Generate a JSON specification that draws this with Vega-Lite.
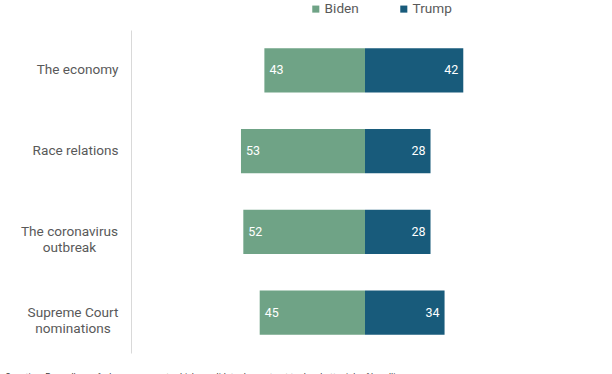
{
  "$schema": "https://vega.github.io/schema/vega-lite/v6.json",
  "autosize": {"type": "none"},
  "padding": {"left": 131, "top": 30, "right": 13, "bottom": 21},
  "width": 468,
  "height": 323,
  "background": "white",
  "config": {
    "view": {"stroke": null},
    "font": "Roboto"
  },
  "title": {
    "text": "Question: Regardless of who you support, which candidate do you trust to do a better job of handling...",
    "orient": "bottom",
    "anchor": "start",
    "frame": "group",
    "dx": -126,
    "offset": 20,
    "fontSize": 9,
    "fontWeight": "normal",
    "color": "#404040"
  },
  "data": {
    "values": [
      {"issue": "The economy", "candidate": "Biden", "pct": 43},
      {"issue": "The economy", "candidate": "Trump", "pct": 42},
      {"issue": "Race relations", "candidate": "Biden", "pct": 53},
      {"issue": "Race relations", "candidate": "Trump", "pct": 28},
      {"issue": "The coronavirus outbreak", "candidate": "Biden", "pct": 52},
      {"issue": "The coronavirus outbreak", "candidate": "Trump", "pct": 28},
      {"issue": "Supreme Court nominations", "candidate": "Biden", "pct": 45},
      {"issue": "Supreme Court nominations", "candidate": "Trump", "pct": 34}
    ]
  },
  "encoding": {
    "y": {
      "field": "issue",
      "type": "nominal",
      "sort": null,
      "scale": {"paddingInner": 0.45, "paddingOuter": 0.225},
      "axis": {
        "title": null,
        "ticks": false,
        "domainColor": "#d9d9d9",
        "domainWidth": 1,
        "labelAlign": {"condition": {"test": "datum.value == 'The coronavirus outbreak' || datum.value == 'Supreme Court nominations'", "value": "center"}, "value": "right"},
        "labelPadding": {"condition": [
          {"test": "datum.value == 'The coronavirus outbreak'", "value": 62},
          {"test": "datum.value == 'Supreme Court nominations'", "value": 58.5}
        ], "value": 13},
        "labelFontSize": 13.6,
        "labelColor": "#595959",
        "labelLineHeight": 16,
        "labelLimit": 200,
        "labelExpr": "datum.label == 'The coronavirus outbreak' ? ['The coronavirus', 'outbreak'] : datum.label == 'Supreme Court nominations' ? ['Supreme Court', 'nominations'] : datum.label"
      }
    }
  },
  "resolve": {"scale": {"x": "independent"}, "axis": {"x": "independent"}},
  "layer": [
    {
      "transform": [{"filter": "datum.candidate == 'Biden'"}],
      "encoding": {
        "x": {
          "field": "pct",
          "type": "quantitative",
          "scale": {"domain": [100, 0], "range": [0, 234]},
          "axis": null
        }
      },
      "layer": [
        {
          "mark": {"type": "bar"},
          "encoding": {
            "color": {
              "field": "candidate",
              "type": "nominal",
              "scale": {"domain": ["Biden", "Trump"], "range": ["#6fa386", "#185b7b"]},
              "legend": {
                "orient": "none",
                "legendX": 178,
                "legendY": -28,
                "direction": "horizontal",
                "title": null,
                "symbolType": "square",
                "symbolSize": 50,
                "symbolStrokeWidth": 0,
                "labelFontSize": 13.6,
                "labelColor": "#595959",
                "labelOffset": 2,
                "columnPadding": 38
              }
            }
          }
        },
        {
          "mark": {"type": "text", "align": "left", "dx": 5, "fontSize": 12.5, "color": "white"},
          "encoding": {"text": {"field": "pct", "type": "quantitative"}}
        }
      ]
    },
    {
      "transform": [{"filter": "datum.candidate == 'Trump'"}],
      "encoding": {
        "x": {
          "field": "pct",
          "type": "quantitative",
          "scale": {"domain": [0, 100], "range": [234, 468]},
          "axis": null
        }
      },
      "layer": [
        {
          "mark": {"type": "bar"},
          "encoding": {
            "color": {"field": "candidate", "type": "nominal"}
          }
        },
        {
          "mark": {"type": "text", "align": "right", "dx": -5, "fontSize": 12.5, "color": "white"},
          "encoding": {"text": {"field": "pct", "type": "quantitative"}}
        }
      ]
    }
  ]
}
